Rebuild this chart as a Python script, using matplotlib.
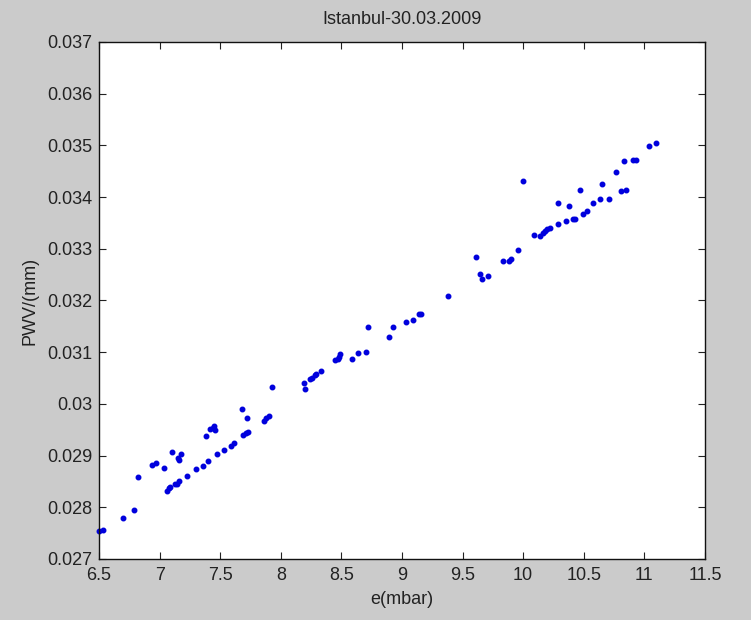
import matplotlib.pyplot as plt
import numpy as np

# e (mbar) and PWV (mm)
e_mbar = [6.50, 6.53, 6.70, 6.79, 6.82, 6.94, 6.97, 7.04, 7.06, 7.08, 7.09,
          7.13, 7.14, 7.16, 7.10, 7.15, 7.16, 7.18, 7.23, 7.30, 7.36, 7.40,
          7.38, 7.42, 7.45, 7.46, 7.44, 7.47, 7.53, 7.59, 7.61, 7.68, 7.72,
          7.69, 7.71, 7.73, 7.86, 7.88, 7.90, 7.93,
          8.19, 8.20, 8.24, 8.26, 8.28, 8.29, 8.33, 8.45, 8.47, 8.48, 8.49,
          8.59, 8.64, 8.70, 8.72, 8.89, 8.93, 9.03, 9.09, 9.14, 9.16, 9.38,
          9.61, 9.64, 9.66, 9.71, 9.83, 9.88, 9.90, 9.96, 10.00,
          10.09, 10.14, 10.16, 10.18, 10.20, 10.22, 10.29, 10.29, 10.35,
          10.38, 10.41, 10.43, 10.49, 10.53, 10.47, 10.58, 10.63, 10.71,
          10.65, 10.77, 10.81, 10.85, 10.83, 10.91, 10.93, 11.04, 11.10]
pwv_mm = [0.02754, 0.02756, 0.02780, 0.02794, 0.02859, 0.02882, 0.02885,
          0.02876, 0.02832, 0.02837, 0.02839, 0.02845, 0.02846, 0.02850,
          0.02906, 0.02895, 0.02891, 0.02903, 0.02861, 0.02874, 0.02879,
          0.02890, 0.02938, 0.02951, 0.02957, 0.02950, 0.02953, 0.02903,
          0.02911, 0.02919, 0.02925, 0.02990, 0.02972, 0.02940, 0.02943,
          0.02946, 0.02967, 0.02972, 0.02976, 0.03033,
          0.03040, 0.03028, 0.03048, 0.03051, 0.03055, 0.03057, 0.03064,
          0.03084, 0.03086, 0.03091, 0.03097, 0.03086, 0.03098, 0.03101,
          0.03148, 0.03130, 0.03148, 0.03159, 0.03162, 0.03174, 0.03174,
          0.03209, 0.03285, 0.03251, 0.03241, 0.03247, 0.03276, 0.03277,
          0.03280, 0.03297, 0.03431,
          0.03326, 0.03325, 0.03331, 0.03334, 0.03338, 0.03341, 0.03347,
          0.03388, 0.03353, 0.03382, 0.03358, 0.03358, 0.03367, 0.03373,
          0.03414, 0.03388, 0.03396, 0.03396, 0.03426, 0.03449, 0.03411,
          0.03414, 0.03469, 0.03472, 0.03472, 0.03498, 0.03504]

xticks = np.arange(6.5, 11.51, 0.5)
yticks = np.arange(0.027, 0.0371, 0.001)

plt.rcParams['font.family'] = ['Liberation Sans', 'DejaVu Sans']

fig = plt.figure(figsize=(7.51, 6.2), dpi=100, facecolor="#cbcbcb")
ax = fig.add_axes([0.1318, 0.0984, 0.8069, 0.8339])
ax.plot(e_mbar, pwv_mm, ".", color="#0000dd", markersize=6.5, clip_on=False)

ax.set_xlim(6.5, 11.5)
ax.set_ylim(0.027, 0.037)
ax.set_xticks(xticks)
ax.set_xticklabels([f"{v:g}" for v in xticks])
ax.set_yticks(yticks)
ax.set_yticklabels([f"{v:.3f}".rstrip("0").rstrip(".") for v in yticks])
ax.tick_params(direction="in", length=5, width=0.8, top=True, right=True,
               labelsize=13, colors="#222222")
ax.tick_params(axis="x", pad=6)
ax.tick_params(axis="y", pad=5)
for s in ax.spines.values():
    s.set_linewidth(1.0)
    s.set_color("#111111")

ax.set_title("Istanbul-30.03.2009", fontsize=13, color="#222222", pad=13)
ax.set_xlabel("e(mbar)", fontsize=13, color="#222222", labelpad=5)
ax.set_ylabel("PWV/(mm)", fontsize=13, color="#222222", labelpad=6)

fig.savefig("out.png", dpi=100, facecolor=fig.get_facecolor())
